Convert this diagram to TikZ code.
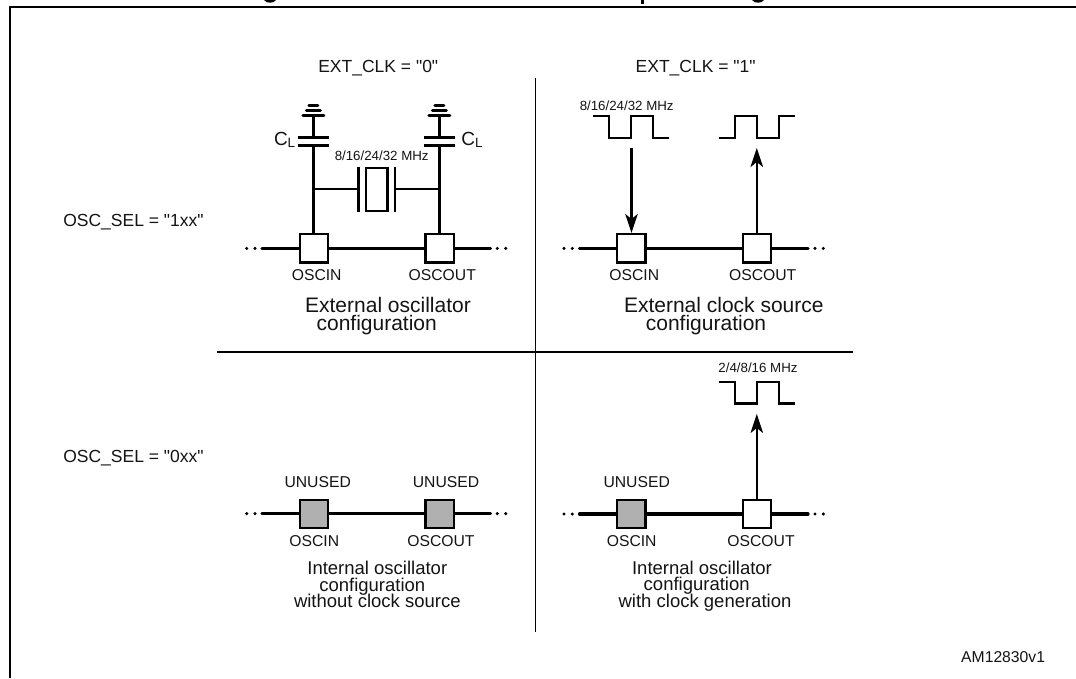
\documentclass[tikz,border=0pt]{standalone}
\usepackage{fontspec}
\setmainfont[Ligatures=TeXOff]{Liberation Sans}
\usetikzlibrary{arrows.meta}
\newcommand{\fs}[1]{\fontsize{#1}{#1}\selectfont}
\tikzset{
  lab/.style={anchor=base,inner sep=0pt,outer sep=0pt,text=black!92,font=\fs{15.7}},
  mhz/.style={lab,font=\fs{13.3}},
  head/.style={lab,anchor=base west,font=\fs{17.5}},
  capbig/.style={lab,font=\fs{21}},
  capsm/.style={lab,font=\fs{18.5}},
  capl/.style={lab,anchor=base west,font=\fs{19}},
  pad/.style={draw=black,line width=2.4pt,fill=white,minimum size=28.4pt,inner sep=0pt,outer sep=1.2pt},
  unused/.style={pad,fill=black!31},
  bus/.style={line width=3.2pt,line cap=round},
  wire/.style={line width=2.4pt},
  thin rule/.style={line width=1.5pt},
  plate/.style={line width=2.8pt},
  gnd/.style={line width=3pt,line cap=round},
  wave/.style={line width=2.2pt,line join=miter},
  arr/.style={line width=2.2pt,-{Stealth[length=19pt,width=12.5pt,inset=5pt]}},
  dot/.style={circle,fill=black,inner sep=0pt,minimum size=3.4pt},
}
\begin{document}
\begin{tikzpicture}[x=1pt,y=-1pt]
\useasboundingbox (0,0) rectangle (1076,678);
\fill[white] (0,0) rectangle (1076,678);
% frame and cut-off title
\draw[line width=2pt] (10,678) -- (10,6.7) -- (1076,6.7);
\fill (264,0) .. controls (266,3.6) and (274,3.6) .. (276,0) -- cycle;
\fill (640.5,0) rectangle (643.5,3.5);
\fill (752,0) .. controls (754,3.6) and (762,3.6) .. (764,0) -- cycle;
% dividers
\draw[thin rule] (535.3,78) -- (535.3,632);
\draw[thin rule] (217,352) -- (853,352);
% headings
\node[head] (hzero) at (318.3,72) {EXT\_CLK = "0"};
\node[head] (hone) at (635.7,72) {EXT\_CLK = "1"};
\node[head] (sone) at (63.3,226.7) {OSC\_SEL = "1xx"};
\node[head] (szero) at (63.3,462.3) {OSC\_SEL = "0xx"};
\node[lab,anchor=base east] (am) at (1045,662.7) {AM12830v1};

% ---------- top left
\coordinate (tlw) at (262,248.4); \coordinate (tle) at (490.5,248.4);
\draw[bus] (tlw) -- (tle);
\node[pad] (p1) at (314,248.4) {};
\node[pad] (p2) at (439.6,248.4) {};
\node[dot] (d1a) at (246.7,248.4) {}; \node[dot] (d1b) at (255,248.4) {};
\node[dot] (d1c) at (497.3,248.4) {}; \node[dot] (d1d) at (505.7,248.4) {};
\coordinate (c1b) at (313.4,145.7); \coordinate (c1t) at (313.4,137.7); \coordinate (g1) at (313.4,115);
\coordinate (c2b) at (439.3,145.7); \coordinate (c2t) at (439.3,137.7); \coordinate (g2) at (439.3,115);
\draw[wire] (p1.north -| c1b) -- (c1b);
\draw[wire] (p2.north -| c2b) -- (c2b);
\draw[wire] (c1t) -- (g1);
\draw[wire] (c2t) -- (g2);
\foreach \c in {c1b,c1t,c2b,c2t}{\draw[plate] ([xshift=-15.5pt]\c) -- ([xshift=15.5pt]\c);}
\foreach \g in {g1,g2}{
  \draw[gnd] ([xshift=-10.5pt]\g) -- ([xshift=10.5pt]\g);
  \draw[gnd] ([xshift=-7pt,yshift=5pt]\g) -- ([xshift=7pt,yshift=5pt]\g);
  \draw[gnd] ([xshift=-4.5pt,yshift=9.4pt]\g) -- ([xshift=4.5pt,yshift=9.4pt]\g);
}
\node[draw=black,line width=2.2pt,minimum width=21.6pt,minimum height=42.6pt,inner sep=0pt,outer sep=1pt] (xtal) at (376.7,189.5) {};
\coordinate (xl) at (358.3,189); \coordinate (xr) at (395,189);
\draw[plate] (358.3,166.7) -- (358.3,212.3);
\draw[plate] (395,166.7) -- (395,212.3);
\draw[wire] (313.4,189) -- (xl);
\draw[wire] (xr) -- (439.3,189);
\node[capl] (cl1) at (274,145) {C\raisebox{-2.4pt}{\fs{13.5}L}};
\node[capl] (cl2) at (461.4,145) {C\raisebox{-2.4pt}{\fs{13.5}L}};
\node[mhz] (f1) at (381.7,160) {8/16/24/32 MHz};
\node[lab] (n1) at (316.7,280.7) {OSCIN};
\node[lab] (n2) at (442.3,280.7) {OSCOUT};
\node[capbig] (t1a) at (388,312) {External oscillator};
\node[capbig] (t1b) at (376.7,330) {configuration};

% ---------- top right
\coordinate (trw) at (579.5,248.4); \coordinate (tre) at (808,248.4);
\draw[bus] (trw) -- (tre);
\node[pad] (p3) at (631.3,248.4) {};
\node[pad] (p4) at (757,248.4) {};
\node[dot] (d2a) at (564,248.4) {}; \node[dot] (d2b) at (572.3,248.4) {};
\node[dot] (d2c) at (815,248.4) {}; \node[dot] (d2d) at (823.3,248.4) {};
\coordinate (a1) at (631.5,148); \coordinate (a2) at (756.8,148);
\draw[arr] (a1) -- (p3.north -| a1);
\draw[arr] (p4.north -| a2) -- (a2);
\draw[wave] (593.3,115.7) -- (609,115.7) -- (609,137.7) -- (630.7,137.7) -- (630.7,115.7) -- (653.3,115.7) -- (653.3,137.7) -- (669,137.7);
\draw[wave] (719,137.7) -- (735,137.7) -- (735,115.7) -- (756.7,115.7) -- (756.7,137.7) -- (779,137.7) -- (779,115.7) -- (795,115.7);
\node[mhz] (f2) at (626.7,110) {8/16/24/32 MHz};
\node[lab] (n3) at (634.3,280.7) {OSCIN};
\node[lab] (n4) at (762.7,280.7) {OSCOUT};
\node[capbig] (t2a) at (723.8,312) {External clock source};
\node[capbig] (t2b) at (706,330) {configuration};

% ---------- bottom left
\coordinate (blw) at (262,513.6); \coordinate (ble) at (490.5,513.6);
\draw[bus] (blw) -- (ble);
\node[unused] (p5) at (314,514) {};
\node[unused] (p6) at (439.6,514) {};
\node[dot] (d3a) at (246.7,513.6) {}; \node[dot] (d3b) at (255,513.6) {};
\node[dot] (d3c) at (497.3,513.6) {}; \node[dot] (d3d) at (505.7,513.6) {};
\node[lab] (u1) at (317.7,487) {UNUSED};
\node[lab] (u2) at (446,487.7) {UNUSED};
\node[lab] (n5) at (314.3,546.7) {OSCIN};
\node[lab] (n6) at (441,546.7) {OSCOUT};
\node[capsm] (t3a) at (377.3,574.5) {Internal oscillator};
\node[capsm] (t3b) at (372.3,591) {configuration};
\node[capsm] (t3c) at (377.3,607.5) {without clock source};

% ---------- bottom right
\coordinate (brw) at (579.5,514); \coordinate (bre) at (808,514);
\draw[bus] (brw) -- (bre);
\node[unused] (p7) at (631.3,514) {};
\node[pad] (p8) at (757,514) {};
\node[dot] (d4a) at (564,514) {}; \node[dot] (d4b) at (572.3,514) {};
\node[dot] (d4c) at (815,514) {}; \node[dot] (d4d) at (823.3,514) {};
\coordinate (a3) at (756.8,414);
\draw[arr] (p8.north -| a3) -- (a3);
\draw[wave] (719,381.7) -- (735,381.7) -- (735,403.4) -- (756.7,403.4) -- (756.7,381.7) -- (779,381.7) -- (779,403.4) -- (795,403.4);
\node[mhz] (f3) at (758,372.5) {2/4/8/16 MHz};
\node[lab] (u3) at (636.7,487.7) {UNUSED};
\node[lab] (n7) at (631.7,546.7) {OSCIN};
\node[lab] (n8) at (761,546.7) {OSCOUT};
\node[capsm] (t4a) at (702,574) {Internal oscillator};
\node[capsm] (t4b) at (696.7,590.7) {configuration};
\node[capsm] (t4c) at (705,607.3) {with clock generation};
\end{tikzpicture}
\end{document}
